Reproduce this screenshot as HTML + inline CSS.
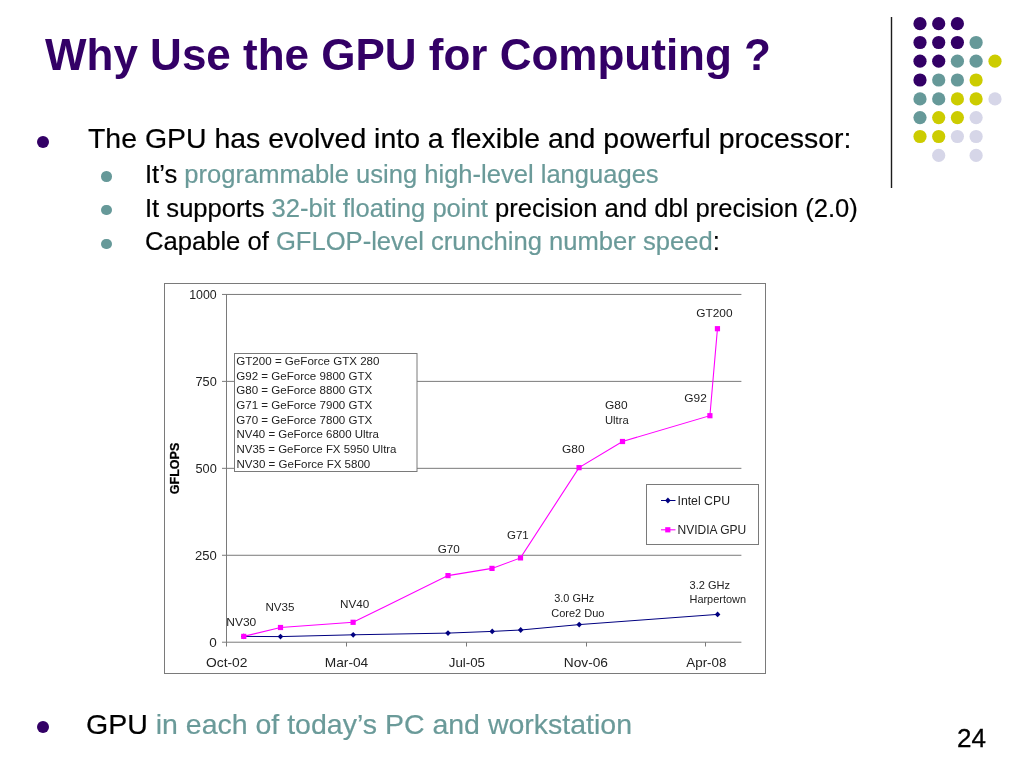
<!DOCTYPE html>
<html>
<head>
<meta charset="utf-8">
<title>Why Use the GPU for Computing ?</title>
<style>
html,body{margin:0;padding:0;background:#fff;}
body{width:1024px;height:768px;position:relative;overflow:hidden;font-family:"Liberation Sans",sans-serif;color:#000;}
.t{position:absolute;white-space:nowrap;line-height:1;will-change:transform;}
#title{left:45px;top:32.7px;font-size:44px;font-weight:bold;color:#330066;}
.b1{font-size:28.45px;-webkit-text-stroke:0.2px;}
.b2{font-size:25.6px;-webkit-text-stroke:0.2px;}
.teal{color:#6a9a99;}
.dot{position:absolute;border-radius:50%;}
#pg{font-size:26px;left:957px;top:725px;-webkit-text-stroke:0.3px #000;}
svg{position:absolute;left:0;top:0;will-change:transform;}
</style>
</head>
<body>
<div id="title" class="t">Why Use the GPU for Computing ?</div>

<div class="dot" style="left:37.2px;top:135.9px;width:11.9px;height:11.9px;background:#330066"></div>
<div class="t b1" style="left:87.6px;top:124.2px">The GPU has evolved into a flexible and powerful processor:</div>

<div class="dot" style="left:101.1px;top:171.2px;width:10.6px;height:10.6px;background:#669999"></div>
<div class="t b2" style="left:144.6px;top:162px;font-size:25.55px">It’s <span class="teal">programmable using high-level languages</span></div>
<div class="dot" style="left:101.1px;top:204.9px;width:10.6px;height:10.6px;background:#669999"></div>
<div class="t b2" style="left:144.6px;top:195.6px">It supports <span class="teal">32-bit floating point</span> precision and dbl precision (2.0)</div>
<div class="dot" style="left:101.1px;top:238.6px;width:10.6px;height:10.6px;background:#669999"></div>
<div class="t b2" style="left:144.6px;top:229.2px">Capable of <span class="teal">GFLOP-level crunching number speed</span>:</div>

<div class="dot" style="left:37.15px;top:721.25px;width:11.9px;height:11.9px;background:#330066"></div>
<div class="t b1" style="left:86.2px;top:710.3px;font-size:28.51px">GPU <span class="teal">in each of today’s PC and workstation</span></div>

<div id="pg" class="t">24</div>

<svg width="1024" height="768" viewBox="0 0 1024 768" font-family="'Liberation Sans', sans-serif">
<!-- decorative dots -->
<line x1="891.5" y1="17" x2="891.5" y2="188" stroke="#1c1c1c" stroke-width="1.4"/>
<g id="dots">
<circle cx="920" cy="23.7" r="6.6" fill="#330066"/>
<circle cx="938.7" cy="23.7" r="6.6" fill="#330066"/>
<circle cx="957.4" cy="23.7" r="6.6" fill="#330066"/>
<circle cx="920" cy="42.5" r="6.6" fill="#330066"/>
<circle cx="938.7" cy="42.5" r="6.6" fill="#330066"/>
<circle cx="957.4" cy="42.5" r="6.6" fill="#330066"/>
<circle cx="976.1" cy="42.5" r="6.6" fill="#669999"/>
<circle cx="920" cy="61.2" r="6.6" fill="#330066"/>
<circle cx="938.7" cy="61.2" r="6.6" fill="#330066"/>
<circle cx="957.4" cy="61.2" r="6.6" fill="#669999"/>
<circle cx="976.1" cy="61.2" r="6.6" fill="#669999"/>
<circle cx="995.0" cy="61.2" r="6.6" fill="#cccc00"/>
<circle cx="920" cy="80.0" r="6.6" fill="#330066"/>
<circle cx="938.7" cy="80.0" r="6.6" fill="#669999"/>
<circle cx="957.4" cy="80.0" r="6.6" fill="#669999"/>
<circle cx="976.1" cy="80.0" r="6.6" fill="#cccc00"/>
<circle cx="920" cy="98.9" r="6.6" fill="#669999"/>
<circle cx="938.7" cy="98.9" r="6.6" fill="#669999"/>
<circle cx="957.4" cy="98.9" r="6.6" fill="#cccc00"/>
<circle cx="976.1" cy="98.9" r="6.6" fill="#cccc00"/>
<circle cx="995.0" cy="98.9" r="6.6" fill="#d6d6e8"/>
<circle cx="920" cy="117.6" r="6.6" fill="#669999"/>
<circle cx="938.7" cy="117.6" r="6.6" fill="#cccc00"/>
<circle cx="957.4" cy="117.6" r="6.6" fill="#cccc00"/>
<circle cx="976.1" cy="117.6" r="6.6" fill="#d6d6e8"/>
<circle cx="920" cy="136.5" r="6.6" fill="#cccc00"/>
<circle cx="938.7" cy="136.5" r="6.6" fill="#cccc00"/>
<circle cx="957.4" cy="136.5" r="6.6" fill="#d6d6e8"/>
<circle cx="976.1" cy="136.5" r="6.6" fill="#d6d6e8"/>
<circle cx="938.7" cy="155.4" r="6.6" fill="#d6d6e8"/>
<circle cx="976.1" cy="155.4" r="6.6" fill="#d6d6e8"/>
</g>
<g id="chart">
<rect x="164.5" y="283.5" width="601" height="390" fill="#fff" stroke="#7a7a7a" stroke-width="1"/>
<line x1="222" y1="294.45" x2="741.4" y2="294.45" stroke="#7a7a7a" stroke-width="1"/>
<line x1="222" y1="381.39" x2="741.4" y2="381.39" stroke="#7a7a7a" stroke-width="1"/>
<line x1="222" y1="468.33" x2="741.4" y2="468.33" stroke="#7a7a7a" stroke-width="1"/>
<line x1="222" y1="555.27" x2="741.4" y2="555.27" stroke="#7a7a7a" stroke-width="1"/>
<line x1="222" y1="642.21" x2="741.4" y2="642.21" stroke="#7a7a7a" stroke-width="1"/>
<line x1="226.5" y1="294" x2="226.5" y2="646.5" stroke="#7a7a7a" stroke-width="1"/>
<line x1="346.5" y1="642.21" x2="346.5" y2="646.5" stroke="#7a7a7a" stroke-width="1"/>
<line x1="466.5" y1="642.21" x2="466.5" y2="646.5" stroke="#7a7a7a" stroke-width="1"/>
<line x1="586.5" y1="642.21" x2="586.5" y2="646.5" stroke="#7a7a7a" stroke-width="1"/>
<line x1="705.5" y1="642.21" x2="705.5" y2="646.5" stroke="#7a7a7a" stroke-width="1"/>
<text transform="translate(178.7,468.45) rotate(-90)" font-size="12" font-weight="bold" text-anchor="middle" textLength="51.5" lengthAdjust="spacingAndGlyphs" fill="#000" stroke="#000" stroke-width="0.25">GFLOPS</text>
<rect x="234.5" y="353.5" width="182.5" height="118" fill="#fff" stroke="#7a7a7a" stroke-width="1"/>
<rect x="646.5" y="484.5" width="112" height="60" fill="#fff" stroke="#7a7a7a" stroke-width="1"/>
<polyline fill="none" stroke="#000080" stroke-width="1" points="243.75,636.4 280.5,636.6 353.2,634.8 448,633.1 492.2,631.4 520.7,630 579.2,624.6 717.6,614.4"/>
<path d="M240.95,636.4 L243.75,633.50 L246.55,636.4 L243.75,639.30 Z" fill="#000080"/>
<path d="M277.70,636.6 L280.5,633.70 L283.30,636.6 L280.5,639.50 Z" fill="#000080"/>
<path d="M350.40,634.8 L353.2,631.90 L356.00,634.8 L353.2,637.70 Z" fill="#000080"/>
<path d="M445.20,633.1 L448,630.20 L450.80,633.1 L448,636.00 Z" fill="#000080"/>
<path d="M489.40,631.4 L492.2,628.50 L495.00,631.4 L492.2,634.30 Z" fill="#000080"/>
<path d="M517.90,630 L520.7,627.10 L523.50,630 L520.7,632.90 Z" fill="#000080"/>
<path d="M576.40,624.6 L579.2,621.70 L582.00,624.6 L579.2,627.50 Z" fill="#000080"/>
<path d="M714.80,614.4 L717.6,611.50 L720.40,614.4 L717.6,617.30 Z" fill="#000080"/>
<polyline fill="none" stroke="#ff00ff" stroke-width="1.1" points="243.75,636.4 280.5,627.5 353.1,622.3 448,575.6 492.0,568.4 520.5,557.9 579.05,467.65 622.5,441.5 709.9,415.7 717.45,328.7"/>
<rect x="241.15" y="633.80" width="5.2" height="5.2" fill="#ff00ff"/>
<rect x="277.90" y="624.90" width="5.2" height="5.2" fill="#ff00ff"/>
<rect x="350.50" y="619.70" width="5.2" height="5.2" fill="#ff00ff"/>
<rect x="445.40" y="573.00" width="5.2" height="5.2" fill="#ff00ff"/>
<rect x="489.40" y="565.80" width="5.2" height="5.2" fill="#ff00ff"/>
<rect x="517.90" y="555.30" width="5.2" height="5.2" fill="#ff00ff"/>
<rect x="576.45" y="465.05" width="5.2" height="5.2" fill="#ff00ff"/>
<rect x="619.90" y="438.90" width="5.2" height="5.2" fill="#ff00ff"/>
<rect x="707.30" y="413.10" width="5.2" height="5.2" fill="#ff00ff"/>
<rect x="714.85" y="326.10" width="5.2" height="5.2" fill="#ff00ff"/>
<line x1="661" y1="500.5" x2="675.5" y2="500.5" stroke="#000080" stroke-width="1"/>
<path d="M665.1,500.5 L667.9,497.6 L670.7,500.5 L667.9,503.4 Z" fill="#000080"/>
<line x1="661" y1="529.8" x2="675.5" y2="529.8" stroke="#ff00ff" stroke-width="1.1"/>
<rect x="665.2" y="527.2" width="5.2" height="5.2" fill="#ff00ff"/>
<text x="189.24" y="299.3" font-size="13" textLength="27.52" lengthAdjust="spacingAndGlyphs" fill="#222">1000</text>
<text x="195.50" y="386.3" font-size="13" textLength="21.26" lengthAdjust="spacingAndGlyphs" fill="#222">750</text>
<text x="195.50" y="473.2" font-size="13" textLength="21.26" lengthAdjust="spacingAndGlyphs" fill="#222">500</text>
<text x="195.00" y="560.2" font-size="13" textLength="21.76" lengthAdjust="spacingAndGlyphs" fill="#222">250</text>
<text x="209.23" y="647.1" font-size="13" textLength="7.53" lengthAdjust="spacingAndGlyphs" fill="#222">0</text>
<text x="206.00" y="666.6" font-size="13" textLength="41.51" lengthAdjust="spacingAndGlyphs" fill="#222">Oct-02</text>
<text x="324.74" y="666.6" font-size="13" textLength="43.52" lengthAdjust="spacingAndGlyphs" fill="#222">Mar-04</text>
<text x="448.75" y="666.6" font-size="13" textLength="36.25" lengthAdjust="spacingAndGlyphs" fill="#222">Jul-05</text>
<text x="563.73" y="666.6" font-size="13" textLength="44.28" lengthAdjust="spacingAndGlyphs" fill="#222">Nov-06</text>
<text x="686.25" y="666.6" font-size="13" textLength="40.24" lengthAdjust="spacingAndGlyphs" fill="#222">Apr-08</text>
<text x="236.25" y="364.85" font-size="11.4" textLength="143.25" lengthAdjust="spacingAndGlyphs" fill="#222">GT200 = GeForce GTX 280</text>
<text x="236.25" y="379.5" font-size="11.4" textLength="136.00" lengthAdjust="spacingAndGlyphs" fill="#222">G92 = GeForce 9800 GTX</text>
<text x="236.25" y="394.2" font-size="11.4" textLength="136.00" lengthAdjust="spacingAndGlyphs" fill="#222">G80 = GeForce 8800 GTX</text>
<text x="236.25" y="408.8" font-size="11.4" textLength="136.00" lengthAdjust="spacingAndGlyphs" fill="#222">G71 = GeForce 7900 GTX</text>
<text x="236.25" y="423.5" font-size="11.4" textLength="136.00" lengthAdjust="spacingAndGlyphs" fill="#222">G70 = GeForce 7800 GTX</text>
<text x="236.50" y="438.1" font-size="11.4" textLength="142.50" lengthAdjust="spacingAndGlyphs" fill="#222">NV40 = GeForce 6800 Ultra</text>
<text x="236.50" y="452.8" font-size="11.4" textLength="160.00" lengthAdjust="spacingAndGlyphs" fill="#222">NV35 = GeForce FX 5950 Ultra</text>
<text x="236.50" y="467.5" font-size="11.4" textLength="133.76" lengthAdjust="spacingAndGlyphs" fill="#222">NV30 = GeForce FX 5800</text>
<text x="226.24" y="625.9" font-size="11.6" textLength="30.02" lengthAdjust="spacingAndGlyphs" fill="#222">NV30</text>
<text x="265.49" y="611.1" font-size="11.6" textLength="29.02" lengthAdjust="spacingAndGlyphs" fill="#222">NV35</text>
<text x="339.99" y="607.65" font-size="11.6" textLength="29.27" lengthAdjust="spacingAndGlyphs" fill="#222">NV40</text>
<text x="437.75" y="552.8" font-size="11.6" textLength="22.00" lengthAdjust="spacingAndGlyphs" fill="#222">G70</text>
<text x="507.00" y="538.75" font-size="11.6" textLength="21.76" lengthAdjust="spacingAndGlyphs" fill="#222">G71</text>
<text x="562.00" y="452.5" font-size="11.6" textLength="22.51" lengthAdjust="spacingAndGlyphs" fill="#222">G80</text>
<text x="605.00" y="409.2" font-size="11.6" textLength="22.51" lengthAdjust="spacingAndGlyphs" fill="#222">G80</text>
<text x="605.00" y="424.4" font-size="11.6" textLength="23.75" lengthAdjust="spacingAndGlyphs" fill="#222">Ultra</text>
<text x="684.25" y="402.3" font-size="11.6" textLength="22.51" lengthAdjust="spacingAndGlyphs" fill="#222">G92</text>
<text x="696.25" y="316.7" font-size="11.6" textLength="36.26" lengthAdjust="spacingAndGlyphs" fill="#222">GT200</text>
<text x="554.25" y="602.2" font-size="11.2" textLength="40.00" lengthAdjust="spacingAndGlyphs" fill="#222">3.0 GHz</text>
<text x="551.25" y="616.8" font-size="11.2" textLength="53.25" lengthAdjust="spacingAndGlyphs" fill="#222">Core2 Duo</text>
<text x="689.50" y="588.9" font-size="11.2" textLength="40.50" lengthAdjust="spacingAndGlyphs" fill="#222">3.2 GHz</text>
<text x="689.49" y="603.3" font-size="11.2" textLength="56.52" lengthAdjust="spacingAndGlyphs" fill="#222">Harpertown</text>
<text x="677.48" y="504.7" font-size="11.9" textLength="52.53" lengthAdjust="spacingAndGlyphs" fill="#222">Intel CPU</text>
<text x="677.49" y="533.9" font-size="11.9" textLength="68.77" lengthAdjust="spacingAndGlyphs" fill="#222">NVIDIA GPU</text>
</g>
</svg>
</body>
</html>
